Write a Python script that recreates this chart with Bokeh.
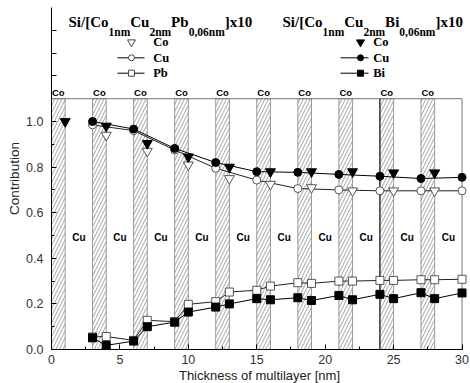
from bokeh.plotting import figure
from bokeh.models import Range1d, FixedTicker, NumeralTickFormatter
from bokeh.core.properties import value
from bokeh.embed import file_html
from bokeh.resources import INLINE

# ---------------- data ----------------
co_layer_start = [0, 3, 6, 9, 12, 15, 18, 21, 24, 27]
cu_label_x = [2, 5, 8, 11, 14, 17, 20, 23, 26, 29]

x_cu = [3, 6, 9, 12, 15, 18, 21, 24, 27, 30]
cu_pb = [0.985, 0.96, 0.875, 0.795, 0.743, 0.706, 0.700, 0.696, 0.696, 0.696]
cu_bi = [1.000, 0.967, 0.882, 0.820, 0.780, 0.777, 0.768, 0.760, 0.750, 0.755]

x_co_pb = [4, 7, 10, 13, 16, 19, 22, 25, 28]
co_pb = [0.940, 0.870, 0.810, 0.750, 0.725, 0.710, 0.696, 0.696, 0.696]
x_co_bi = [1, 4, 7, 10, 13, 16, 19, 22, 25, 28]
co_bi = [1.000, 0.980, 0.904, 0.845, 0.800, 0.780, 0.780, 0.780, 0.775, 0.775]

x_imp = [3, 4, 6, 7, 9, 10, 12, 13, 15, 16, 18, 19, 21, 22, 24, 25, 27, 28, 30]
pb = [0.055, 0.057, 0.040, 0.128, 0.122, 0.198, 0.210, 0.252, 0.260, 0.278,
      0.293, 0.290, 0.300, 0.300, 0.303, 0.303, 0.306, 0.306, 0.308]
bi = [0.051, 0.018, 0.037, 0.100, 0.120, 0.164, 0.186, 0.200, 0.223, 0.218,
      0.227, 0.215, 0.237, 0.218, 0.242, 0.223, 0.249, 0.223, 0.248]

x_ticks = [0, 5, 10, 15, 20, 25, 30]
x_minor = [2.5, 7.5, 12.5, 17.5, 22.5, 27.5]
y_ticks = [0, 0.2, 0.4, 0.6, 0.8, 1.0, 1.2, 1.3, 1.4]
y_minor = [0.1, 0.3, 0.5, 0.7, 0.9]

title_pb = [("Si/[Co", "m"), ("1nm", "s"), ("Cu", "m"), ("2nm", "s"), ("Pb", "m"), ("0,06nm", "s"), ("]x10", "m")]
title_bi = [("Si/[Co", "m"), ("1nm", "s"), ("Cu", "m"), ("2nm", "s"), ("Bi", "m"), ("0,06nm", "s"), ("]x10", "m")]
legend_pb = ["Co", "Cu", "Pb"]
legend_bi = ["Co", "Cu", "Bi"]

# ---------------- layout ----------------
X_END = 30.4
Y_END = 1.5
FW, FH = 416, 342
PXX = FW / X_END
PXY = FH / Y_END
LEFT, TOP = 51, 7


def ox(px):
    return (px - LEFT) / PXX


def oy(py):
    return (TOP + FH - py) / PXY


p = figure(frame_width=FW, frame_height=FH,
           x_range=Range1d(0, X_END), y_range=Range1d(0, Y_END),
           output_backend="svg", toolbar_location=None,
           min_border_left=LEFT, min_border_right=2, min_border_top=TOP, min_border_bottom=33)
p.outline_line_color = None
p.grid.visible = False

# Co layers (hatched)
p.quad(left=co_layer_start, right=[s + 1 for s in co_layer_start], bottom=0, top=1.1,
       fill_color="white", line_color="#9a9a9a", line_width=1,
       hatch_pattern="/", hatch_color="#8c8c8c", hatch_scale=7, hatch_weight=0.8)
p.segment(x0=[co_layer_start[8]], y0=[0], x1=[co_layer_start[8]], y1=[1.1], line_color="black", line_width=1)

# box top & right
p.line(x=[0, x_ticks[-1], x_ticks[-1]], y=[1.1, 1.1, 0], line_color="#777777", line_width=1)

# labels
p.text(x=cu_label_x, y=[0.49] * len(cu_label_x), text=["Cu"] * len(cu_label_x),
       text_font=value("Liberation Sans"), text_font_style="bold", text_font_size="10px",
       text_align="center", text_baseline="middle", text_color="black")
p.text(x=[s + 0.5 for s in co_layer_start], y=[1.127] * len(co_layer_start), text=["Co"] * len(co_layer_start),
       text_font=value("Liberation Sans"), text_font_style="bold", text_font_size="9.5px",
       text_align="center", text_baseline="middle", text_color="black")

# lines
p.line(x_cu, cu_pb, line_color="#222222", line_width=1)
p.line(x_imp, pb, line_color="#222222", line_width=1)
p.line(x_cu, cu_bi, line_color="black", line_width=1)
p.line(x_imp, bi, line_color="black", line_width=1)

# open markers
p.scatter(x_co_pb, co_pb, marker="inverted_triangle", size=10, fill_color="white", line_color="#444444", line_width=0.9)
p.scatter(x_cu, cu_pb, marker="circle", size=8, fill_color="white", line_color="#444444", line_width=0.9)
p.scatter(x_imp, pb, marker="square", size=8, fill_color="white", line_color="#444444", line_width=0.9)
# filled markers
p.scatter(x_co_bi, co_bi, marker="inverted_triangle", size=10, color="black")
p.scatter(x_cu, cu_bi, marker="circle", size=8, color="black")
p.scatter(x_imp, bi, marker="square", size=8, color="black")

# ---------------- legend / titles ----------------
TW = {"S": 556, "i": 278, "/": 278, "[": 333, "C": 722, "o": 500, "1": 500, "n": 556, "m": 833,
      "u": 556, "2": 500, "P": 611, "b": 556, "0": 500, ",": 250, "6": 500, "]": 333, "x": 500, "B": 667}
MAIN, SUB = 15, 11.5


def draw_title(pieces, x0):
    xs_m, t_m, xs_s, t_s = [], [], [], []
    cur = 0.0
    for txt, kind in pieces:
        size = MAIN if kind == "m" else SUB
        if kind == "m":
            xs_m.append(x0 + cur / PXX); t_m.append(txt)
        else:
            xs_s.append(x0 + cur / PXX); t_s.append(txt)
        cur += sum(TW[c] for c in txt) * size / 1000.0
    p.text(x=xs_m, y=[oy(21)] * len(xs_m), text=t_m, text_font=value("Liberation Serif"),
           text_font_style="bold", text_font_size=f"{MAIN}px", text_baseline="middle", text_align="left")
    p.text(x=xs_s, y=[oy(31.5)] * len(xs_s), text=t_s, text_font=value("Liberation Serif"),
           text_font_style="bold", text_font_size=f"{SUB}px", text_baseline="middle", text_align="left")


draw_title(title_pb, ox(68))
draw_title(title_bi, ox(282))

rows_py = [41.7, 57.3, 72.7]
row_y = [oy(v) for v in rows_py]


def draw_legend(mx, lx0, lx1, tx, names, filled):
    fc = "black" if filled else "white"
    lc = "black" if filled else "#444444"
    p.segment(x0=[ox(lx0)] * 2, y0=row_y[1:], x1=[ox(lx1)] * 2, y1=row_y[1:], line_color="black", line_width=1)
    p.scatter([ox(mx)], [row_y[0]], marker="inverted_triangle", size=8, fill_color=fc, line_color=lc)
    p.scatter([ox(mx)], [row_y[1]], marker="circle", size=6, fill_color=fc, line_color=lc)
    p.scatter([ox(mx)], [row_y[2]], marker="square", size=6, fill_color=fc, line_color=lc)
    p.text(x=[ox(tx)] * 3, y=row_y, text=names, text_font=value("Liberation Serif"), text_font_style="bold",
           text_font_size="12.5px", text_baseline="middle", text_align="left")


draw_legend(131, 117, 144, 152.7, legend_pb, False)
draw_legend(360, 340, 368, 372.7, legend_bi, True)

# ---------------- axes ----------------
for ax in (p.xaxis, p.yaxis):
    ax.axis_line_color = "black"
    ax.major_tick_line_color = "black"
    ax.minor_tick_line_color = "black"
    ax.major_tick_in = 5
    ax.major_tick_out = 0
    ax.minor_tick_in = 3
    ax.minor_tick_out = 0
    ax.major_label_text_font = "Liberation Sans"
    ax.major_label_text_font_size = "12.5px"
    ax.major_label_text_color = "#333333"
    ax.axis_label_text_font = "Liberation Sans"
    ax.axis_label_text_font_style = "normal"
    ax.axis_label_text_font_size = "13.5px"
    ax.axis_label_text_color = "#222222"

p.xaxis.ticker = FixedTicker(ticks=x_ticks, minor_ticks=x_minor)
p.xaxis.bounds = (0, 30)
p.xaxis.axis_label = "Thickness of multilayer [nm]"
p.xaxis.axis_label_text_font_size = "13px"
p.xaxis.major_label_standoff = 5
p.xaxis.axis_label_standoff = 1

p.yaxis.ticker = FixedTicker(ticks=y_ticks, minor_ticks=y_minor)
p.yaxis.formatter = NumeralTickFormatter(format="0.0")
p.yaxis.major_label_overrides = {1.2: "", 1.3: "", 1.4: ""}
p.yaxis.axis_label = "Contribution"
p.yaxis.major_label_standoff = 8
p.yaxis.axis_label_standoff = 1

open("out.html", "w").write(file_html(p, INLINE))
